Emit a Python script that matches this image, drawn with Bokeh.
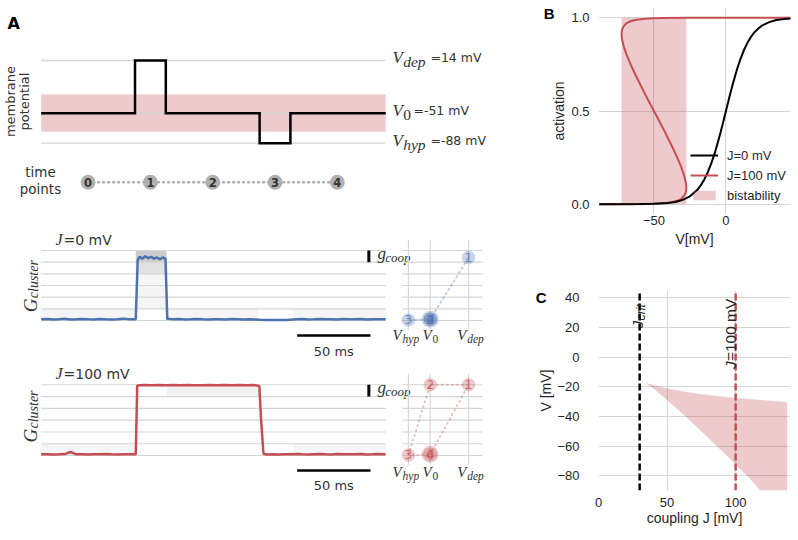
from math import pi
from bokeh.plotting import figure
from bokeh.layouts import row, column
from bokeh.models import Range1d, FixedTicker, Legend, LegendItem, LinearAxis
from bokeh.core.properties import value
from bokeh.embed import file_html
from bokeh.resources import INLINE

BLUE = "#4c72b0"
RED = "#c44e52"
DARK = "#262626"
GRID = "#d5d5d5"
SANS = "DejaVu Sans"
SERIF = "Liberation Serif"
ARIAL = "Liberation Sans"

# ---------------- Panel A : protocol ----------------
V_DEP, V_REST, V_HYP = 14, -51, -88
T_END = 235
prot_t = [0, 64, 64, 85, 85, 149, 149, 170, 170, 235]
prot_v = [-51, -51, 14, 14, -51, -51, -88, -88, -51, -51]
band_lo, band_hi = -74, -28
tp_t = [32, 74.5, 117, 159.5, 202]
tp_names = ["0", "1", "2", "3", "4"]
tp_volt = [V_REST, V_DEP, V_REST, V_HYP, V_REST]

# G_cluster trace, J = 0 mV
g0_t = [0, 4, 8, 12, 16, 20, 24, 28, 32, 36, 40, 44, 48, 52, 56, 60, 64.5,
        65.8, 67, 69, 71, 73, 75, 77, 79, 81, 83, 84.8,
        86, 90, 94, 98, 102, 106, 110, 114, 118, 122, 126, 130, 134, 138, 142, 146, 149,
        152, 156, 160, 164, 168, 170,
        174, 178, 182, 186, 190, 194, 198, 202, 206, 210, 214, 218, 222, 226, 230, 235]
g0_g = [0.10, 0.12, 0.08, 0.11, 0.15, 0.09, 0.10, 0.13, 0.10, 0.08, 0.12, 0.10, 0.09, 0.11, 0.16, 0.10, 0.10,
        5.15, 5.45, 5.30, 5.50, 5.35, 5.45, 5.30, 5.40, 5.25, 5.40, 5.30,
        0.14, 0.10, 0.12, 0.09, 0.10, 0.13, 0.10, 0.08, 0.11, 0.10, 0.09, 0.12, 0.10, 0.08, 0.10, 0.09, 0.06,
        0.04, 0.05, 0.04, 0.05, 0.04, 0.06,
        0.10, 0.12, 0.09, 0.10, 0.13, 0.10, 0.11, 0.09, 0.12, 0.10, 0.10, 0.13, 0.09, 0.10, 0.11, 0.10]
g0_tp = [0.1, 5.4, 0.1, 0.05, 0.1]
# trial spread, J = 0 mV : (t0, t1, low, high, alpha)
g0_spread = [(64.5, 85.5, 5.0, 6.05, 0.5), (64.5, 85.5, 4.0, 5.0, 0.3), (64.5, 85.5, 1.0, 4.0, 0.1),
             (0, 64, 0, 1, 0.1), (86, 148, 0, 1, 0.1), (171, 235, 0, 1, 0.1)]

# G_cluster trace, J = 100 mV
g100_t = [0, 4, 8, 12, 16, 20, 24, 28, 32, 36, 40, 44, 48, 52, 56, 60, 64.5,
          65.5, 70, 75, 80, 85, 90, 95, 100, 105, 110, 115, 120, 125, 130, 135, 140, 145, 148.8,
          150.0, 151.6, 154, 158, 162, 166, 170, 174, 178, 182, 186, 190, 194, 198, 202, 206, 210,
          214, 218, 222, 226, 230, 235]
g100_g = [0.10, 0.11, 0.09, 0.10, 0.12, 0.30, 0.10, 0.10, 0.09, 0.11, 0.10, 0.12, 0.10, 0.09, 0.11, 0.10, 0.10,
          5.95, 5.98, 5.97, 5.98, 5.96, 5.98, 5.97, 5.98, 5.97, 5.96, 5.98, 5.97, 5.98, 5.96, 5.98, 5.97, 5.98, 5.90,
          3.0, 0.15, 0.08, 0.10, 0.09, 0.11, 0.10, 0.12, 0.10, 0.09, 0.11, 0.13, 0.10, 0.09, 0.12, 0.10, 0.11,
          0.10, 0.13, 0.09, 0.10, 0.12, 0.10]
g100_tp = [0.1, 6.0, 6.0, 0.05, 0.1]
g100_spread = [(86, 149, 5.0, 6.0, 0.15), (0, 64, 0, 1, 0.1), (172, 235, 0, 1, 0.1)]

levels = [0, 1, 2, 3, 4, 5, 6]
G_COOP = 1
SCALE_MS = 50

# ---------------- Panel B : activation curves ----------------
black_v = [-88, -60, -50, -40, -35, -30, -25, -20, -17.5, -15, -12.5, -10, -7.5, -5, -2.5, 0,
           2.5, 5, 7.5, 10, 12.5, 15, 17.5, 20, 22.5, 25, 30, 35, 40, 45]
black_a = [0.0, 0.0006, 0.002, 0.007, 0.012, 0.023, 0.042, 0.076, 0.101, 0.133, 0.173, 0.223, 0.281, 0.349, 0.422, 0.5,
           0.578, 0.651, 0.719, 0.777, 0.827, 0.867, 0.899, 0.924, 0.943, 0.958, 0.977, 0.988, 0.993, 0.996]
red_v = [-88, -83.3, -73.7, -64.9, -55.4, -46.7, -37.8, -33.1, -30.8, -28.6, -27.7, -27.5, -27.7, -28.9,
         -31.1, -33.8, -36.8, -40.0, -43.2, -46.6, -50.0, -53.4, -56.8, -60.0, -63.2, -66.2, -68.9, -71.1,
         -72.3, -72.5, -72.3, -71.4, -69.2, -66.9, -62.2, -53.3, -44.6, -26.3, -7.9, 29.0, 45.0]
red_a = [0.00002, 0.00003, 0.0001, 0.0003, 0.001, 0.003, 0.01, 0.02, 0.03, 0.05, 0.07, 0.088, 0.11, 0.15,
         0.20, 0.25, 0.30, 0.35, 0.40, 0.45, 0.50, 0.55, 0.60, 0.65, 0.70, 0.75, 0.80, 0.85,
         0.89, 0.912, 0.93, 0.95, 0.97, 0.98, 0.99, 0.997, 0.999, 0.9999, 0.99999, 1.0, 1.0]
bist_lo_B, bist_hi_B = -72.5, -27.5

# ---------------- Panel C : bistable region vs coupling ----------------
c_j = [32.6, 33, 35, 40, 50, 60, 70, 80, 90, 100, 110, 118, 120, 130, 137.5]
c_upper = [-16.8, -16.9, -17.4, -18.8, -21.1, -22.9, -24.3, -25.5, -26.6, -27.5, -28.3, -28.9, -29.1, -29.8, -30.3]
c_lower = [-16.8, -17.0, -17.8, -21.2, -28.9, -37.1, -45.7, -54.5, -63.4, -72.5, -81.7, -90, -90, -90, -90]
J_CRIT = 30
J_SHOWN = 100

assert len(g0_t) == len(g0_g) and len(g100_t) == len(g100_g)
assert len(black_v) == len(black_a) and len(red_v) == len(red_a)


def blank(w, h, xr, yr):
    p = figure(width=w, height=h, x_range=Range1d(*xr), y_range=Range1d(*yr),
               x_axis_type=None, y_axis_type=None, toolbar_location=None,
               output_backend="svg", min_border=0)
    p.outline_line_color = None
    p.background_fill_color = "white"
    p.border_fill_color = "white"
    return p


def txt(p, x, y, s, size, font=SANS, style="normal", color=DARK, align="left",
        baseline="middle", xo=0, yo=0, angle=0, rng="default", alpha=1.0):
    p.text(x=[x], y=[y], text=[s], text_font=value(font), text_font_size=f"{size}px",
           text_font_style=style, text_color=color, text_align=align,
           text_baseline=baseline, x_offset=xo, y_offset=yo, angle=angle,
           x_range_name=rng, text_alpha=alpha)


LW = 532
TR = (-27.76, 335.13)
VR = (-779.3, 122.4)
TXT = "#333333"

# ---- A1: protocol ----
a1 = blank(LW, 160, TR, (-109.34, 88.0))
a1.quad(left=0, right=T_END, bottom=band_lo, top=band_hi, fill_color=RED, fill_alpha=0.3, line_color=None)
a1.multi_line(xs=[[0, T_END]] * 3, ys=[[v, v] for v in (V_DEP, V_REST, V_HYP)], line_color=GRID, line_width=1.3)
a1.line(prot_t, prot_v, line_color="black", line_width=2.5, line_join="miter")
txt(a1, -18.7, 60.2, "A", 16, SANS, "bold", "black", "center")
txt(a1, -20.9, -36.6, "membrane", 13, SANS, color=TXT, align="center", angle=pi / 2)
txt(a1, -11.05, -36.6, "potential", 13, SANS, color=TXT, align="center", angle=pi / 2)
for v, sub, sst, eq in [(V_DEP, "dep", "italic", 38), (V_REST, "0", "normal", 21), (V_HYP, "hyp", "italic", 38)]:
    txt(a1, T_END, v, "V", 17, SERIF, "italic", TXT, xo=6.7, yo=-3)
    txt(a1, T_END, v, sub, 15.5, SERIF, sst, TXT, xo=17.5, yo=1.5)
    txt(a1, T_END, v, f"={v} mV", 12.5, SANS, color=TXT, xo=6.7 + eq, yo=-3)

# ---- time points ----
tp_y = 0.4575
atp = blank(LW, 40, TR, (0, 1))
atp.line(tp_t, [tp_y] * len(tp_t), line_color="#b0b0b0", line_width=2.5, line_dash="1 4", line_cap="round")
atp.scatter(tp_t, [tp_y] * len(tp_t), size=15, fill_color="#b0b0b0", line_color=None)
atp.text(x=tp_t, y=[tp_y] * len(tp_t), text=tp_names, text_font=value(SANS), text_font_size="11.5px",
         text_font_style="bold", text_color=TXT, text_align="center", text_baseline="middle")
txt(atp, -0.5, 0.71, "time", 13.5, SANS, color=TXT, align="center")
txt(atp, -0.5, 0.29, "points", 13.5, SANS, color=TXT, align="center")


def trace_panel(h, yr, tt, gg, spread, tpg, col, jval, glab_y, vlab_y, bar_y):
    p = blank(LW, h, TR, yr)
    p.extra_x_ranges = {"V": Range1d(*VR)}
    for (t0, t1, lo, hi, al) in spread:
        p.quad(left=t0, right=t1, bottom=lo, top=hi, fill_color="#9a9a9a", fill_alpha=al, line_color=None)
    p.multi_line(xs=[[0, T_END]] * len(levels), ys=[[l, l] for l in levels], line_color=GRID, line_width=1.1)
    p.line(tt, gg, line_color=col, line_width=2.5)
    # g_coop bar
    p.line([223.5, 223.5], [levels[-1] - G_COOP, levels[-1]], line_color="black", line_width=3)
    txt(p, 223.5, levels[-1] - G_COOP / 2, "g", 17, SERIF, "italic", TXT, xo=8.7, yo=-3)
    txt(p, 223.5, levels[-1] - G_COOP / 2, "coop", 13, SERIF, "italic", TXT, xo=16.5, yo=1)
    # J label
    txt(p, 9.75, 6.92, "J", 16, SERIF, "italic", TXT)
    txt(p, 9.75, 6.92, f"={jval} mV", 14, SANS, color=TXT, xo=8.0)
    # G_cluster label
    txt(p, -7.3, glab_y, "G", 19, SERIF, "italic", TXT, baseline="alphabetic", angle=pi / 2)
    txt(p, -7.3, glab_y, "cluster", 14, SERIF, "italic", TXT, baseline="alphabetic",
        angle=pi / 2, xo=3, yo=-14)
    # scale bar
    p.line([174.6, 174.6 + SCALE_MS], [bar_y, bar_y], line_color="black", line_width=2.5)
    txt(p, 174.6 + SCALE_MS / 2, bar_y, f"{SCALE_MS} ms", 13, SANS, color=TXT, align="center", yo=15.5)
    # state-space mini panel
    p.multi_line(xs=[[-98, 37]] * len(levels), ys=[[l, l] for l in levels], line_color=GRID,
                 line_width=1.1, x_range_name="V")
    p.multi_line(xs=[[v, v] for v in (V_HYP, V_REST, V_DEP)], ys=[[-0.8, 6.9]] * 3, line_color=GRID,
                 line_width=1.1, x_range_name="V")
    p.line(tp_volt, tpg, line_color=col, line_alpha=0.35, line_width=2, line_dash="1 4",
           line_cap="round", x_range_name="V")
    sizes = [17, 13.5, 13.5, 13.5, 13.5]
    p.scatter(tp_volt, tpg, size=sizes, fill_color=col, fill_alpha=0.3, line_color=None, x_range_name="V")
    p.text(x=tp_volt, y=tpg, text=tp_names, text_font=value(SANS), text_font_size="12px",
           text_color=col, text_alpha=0.75, text_align="center", text_baseline="middle", x_range_name="V")
    for v, sub, sst, xv, xs in [(V_HYP, "hyp", "italic", -15.8, -5.8), (V_REST, "0", "normal", -7.7, 2.3),
                                (V_DEP, "dep", "italic", -11.3, -1.3)]:
        txt(p, v, vlab_y, "V", 15, SERIF, "italic", TXT, xo=xv, yo=-2, rng="V")
        txt(p, v, vlab_y, sub, 11.5, SERIF, sst, TXT, xo=xs, yo=2, rng="V")
    return p


a2 = trace_panel(160, (-3.4286, 10.2857), g0_t, g0_g, g0_spread, g0_tp, BLUE, 0, 0.71, -1.43, -1.286)
a3 = trace_panel(180, (-7.2156, 8.0645), g100_t, g100_g, g100_spread, g100_tp, RED, 100, 1.10, -1.53, -1.273)


def style_axes(p):
    p.outline_line_color = None
    p.axis.axis_line_color = None
    p.axis.major_tick_line_color = None
    p.axis.minor_tick_line_color = None
    p.axis.major_tick_out = 0
    p.axis.major_tick_in = 0
    p.axis.major_label_text_font = ARIAL
    p.axis.major_label_text_font_size = "13px"
    p.axis.major_label_text_color = DARK
    p.axis.axis_label_text_font = ARIAL
    p.axis.axis_label_text_font_size = "14px"
    p.axis.axis_label_text_font_style = "normal"
    p.axis.axis_label_text_color = DARK
    p.grid.grid_line_color = GRID
    p.grid.grid_line_width = 1.1
    p.background_fill_color = "white"
    p.border_fill_color = "white"


def letter_axis(tick, letter, standoff):
    return LinearAxis(ticker=FixedTicker(ticks=[tick]), major_label_overrides={tick: letter},
                      axis_line_color=None, major_tick_line_color=None, minor_tick_line_color=None,
                      major_tick_out=0, major_tick_in=0, major_label_standoff=standoff,
                      major_label_text_font=ARIAL, major_label_text_font_size="15px",
                      major_label_text_font_style="bold", major_label_text_color="black")


RW = 798 - LW

# ---- B ----
b = figure(width=RW, height=280, x_range=Range1d(-88.5, 44.83), y_range=Range1d(-0.05, 1.05),
           toolbar_location=None, output_backend="svg",
           min_border_left=58, min_border_right=8, min_border_top=8, min_border_bottom=67)
style_axes(b)
b.xaxis.ticker = FixedTicker(ticks=[-50, 0])
b.yaxis.ticker = FixedTicker(ticks=[0, 0.5, 1])
b.xaxis.major_label_overrides = {-50: "\u221250", 0: "0"}
b.yaxis.major_label_overrides = {0: "0.0", 0.5: "0.5", 1: "1.0"}
b.xaxis.axis_label = "V[mV]"
b.yaxis.axis_label = "activation"
b.yaxis.major_label_standoff = 9
b.yaxis.axis_label_standoff = 1
b.xaxis.major_label_standoff = 2
b.xaxis.axis_label_standoff = 3
b.add_layout(letter_axis(1.023, "B", -6), "left")
rq = b.quad(left=bist_lo_B, right=bist_hi_B, bottom=0, top=1, fill_color=RED, fill_alpha=0.3, line_color=None)
rr = b.line(red_v, red_a, line_color=RED, line_width=2)
rb = b.line(black_v, black_a, line_color="black", line_width=2)
leg = Legend(items=[LegendItem(label="J=0 mV", renderers=[rb]),
                    LegendItem(label="J=100 mV", renderers=[rr]),
                    LegendItem(label="bistability", renderers=[rq])],
             location=(92, 8), background_fill_alpha=0, border_line_color=None,
             padding=0, margin=0, spacing=0, label_height=20, glyph_height=12, glyph_width=28,
             label_standoff=9, label_text_font=ARIAL, label_text_font_size="13px", label_text_color=DARK)
b.add_layout(leg)

# ---- C ----
c = figure(width=RW, height=260, x_range=Range1d(0, 140), y_range=Range1d(-90, 45),
           toolbar_location=None, output_backend="svg",
           min_border_left=62, min_border_right=8, min_border_top=10, min_border_bottom=50)
style_axes(c)
c.xaxis.ticker = FixedTicker(ticks=[0, 50, 100])
c.xgrid.ticker = FixedTicker(ticks=[50, 100])
c.yaxis.ticker = FixedTicker(ticks=[-80, -60, -40, -20, 0, 20, 40])
c.yaxis.major_label_overrides = {-80: "\u221280", -60: "\u221260", -40: "\u221240", -20: "\u221220",
                                 0: "0", 20: "20", 40: "40"}
c.xaxis.axis_label = "coupling J [mV]"
c.yaxis.axis_label = "V [mV]"
c.yaxis.major_label_standoff = 19
c.yaxis.axis_label_standoff = 0
c.xaxis.major_label_standoff = 7
c.xaxis.axis_label_standoff = 0
c.add_layout(letter_axis(40.2, "C", -11), "left")
c.varea(x=c_j, y1=c_lower, y2=c_upper, fill_color=RED, fill_alpha=0.3)
c.line([J_CRIT, J_CRIT], [-90, 45], line_color="black", line_width=2.5, line_dash="7 3")
c.line([J_SHOWN, J_SHOWN], [-90, 45], line_color=RED, line_width=2.5, line_dash="7 3")
txt(c, J_CRIT, 19.3, "J", 15.5, ARIAL, "italic", DARK, baseline="alphabetic", angle=pi / 2, xo=-2)
txt(c, J_CRIT, 19.3, "crit", 12.5, ARIAL, "italic", DARK, baseline="alphabetic", angle=pi / 2, xo=1, yo=-8)
txt(c, J_SHOWN, 39.5, f"={J_SHOWN} mV", 15.5, ARIAL, "normal", DARK, align="right",
    baseline="alphabetic", angle=pi / 2, xo=-5.5)
txt(c, J_SHOWN, 39.5, "J", 15.5, ARIAL, "italic", DARK, align="right",
    baseline="alphabetic", angle=pi / 2, xo=-5.5, yo=62.5)

layout = row(column(a1, atp, a2, a3), column(b, c))
open("out.html", "w").write(file_html(layout, INLINE))
